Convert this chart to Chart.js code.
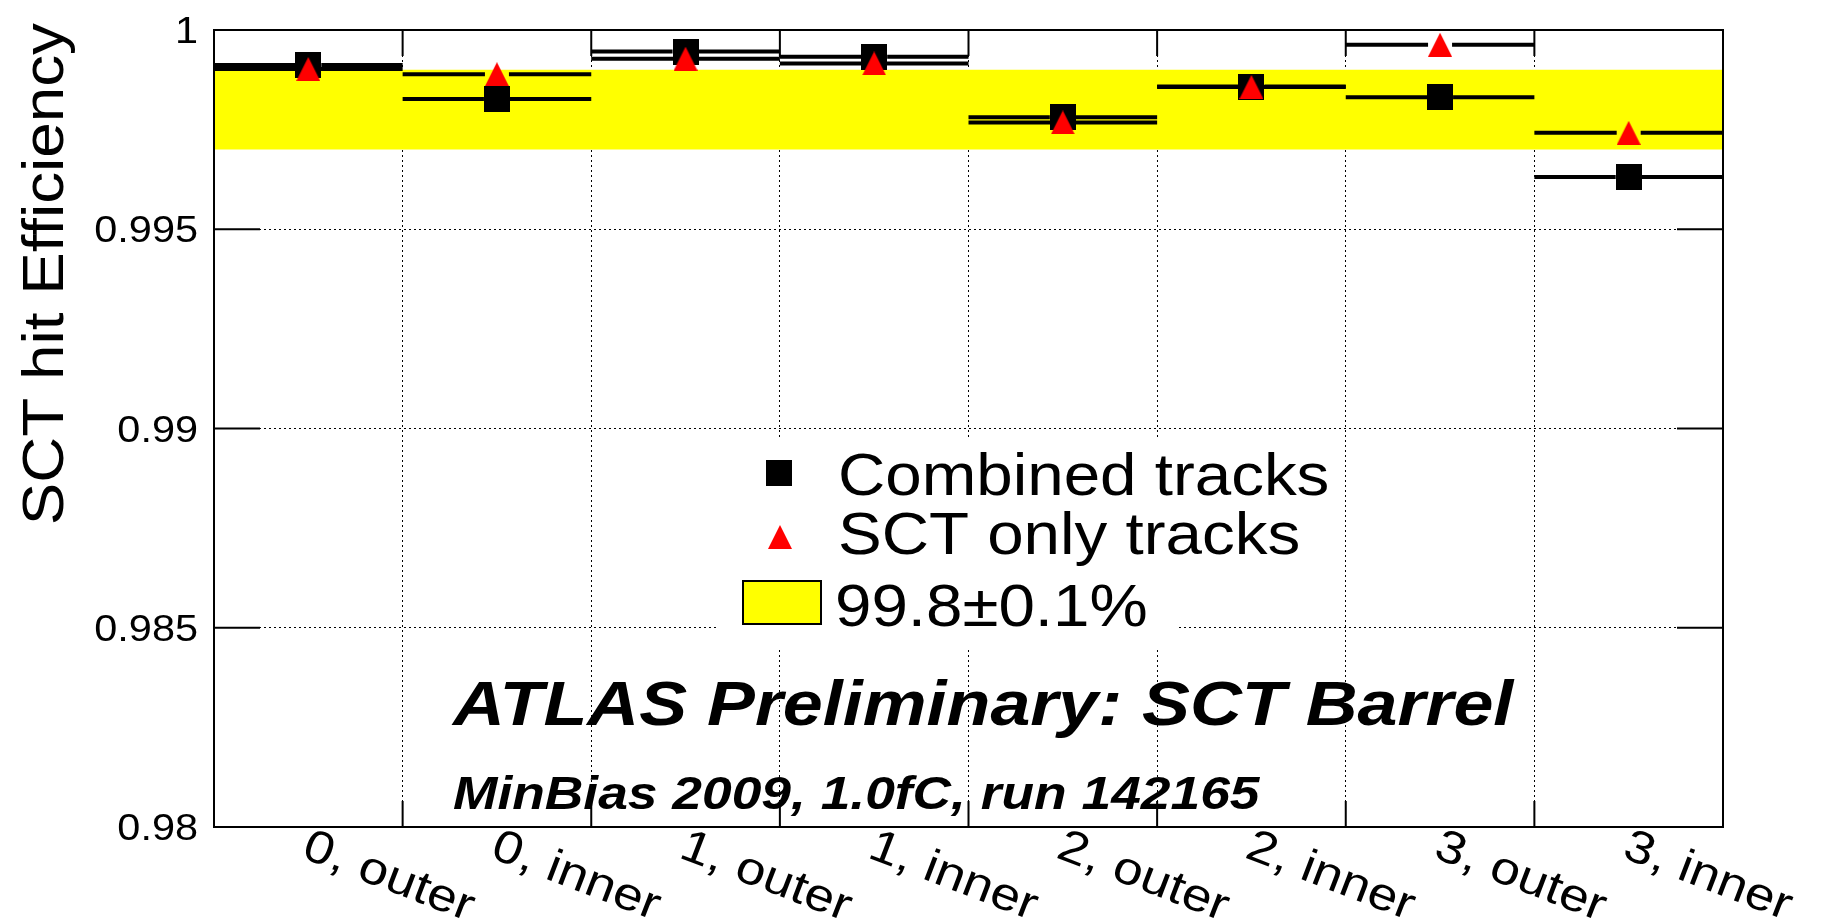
<!DOCTYPE html>
<html>
<head>
<meta charset="utf-8">
<title>SCT hit efficiency</title>
<script src="https://cdn.jsdelivr.net/npm/chart.js@4.4.1/dist/chart.umd.min.js"></script>
<style>
  html, body { margin: 0; padding: 0; background: #fff; }
  canvas { display: block; }
</style>
</head>
<body>
<canvas id="eff" width="1821" height="922"></canvas>
<script>
// Barrel layers / sides
const categories = ['0, outer', '0, inner', '1, outer', '1, inner', '2, outer', '2, inner', '3, outer', '3, inner'];
// Hit efficiency per layer side
const combinedEff = [0.99912, 0.99827, 0.99946, 0.99933, 0.99781, 0.99858, 0.99831, 0.99631];
const sctOnlyEff  = [0.99902, 0.99889, 0.99928, 0.99916, 0.99768, 0.99857, 0.99963, 0.99742];
// Reference band 99.8 +- 0.1 %
const bandCenter = 0.998;
const bandHalfWidth = 0.001;
// Y axis ticks
const yTickValues = [0.98, 0.985, 0.99, 0.995, 1];
const yTickLabels = ['0.98', '0.985', '0.99', '0.995', '1'];
// Text
const legendLabels = ['Combined tracks', 'SCT only tracks', '99.8\u00B10.1%'];
const yTitle = 'SCT hit Efficiency';
const atlasLabel = 'ATLAS Preliminary: SCT Barrel';
const runLabel = 'MinBias 2009, 1.0fC, run 142165';

const FONT = '"Liberation Sans", Arial, Helvetica, sans-serif';

// Marker sprites
function squareSprite(size) {
  const c = document.createElement('canvas');
  c.width = size; c.height = size;
  const g = c.getContext('2d');
  g.fillStyle = '#000';
  g.fillRect(0, 0, size, size);
  return c;
}
function triangleSprite(w, h) {
  const c = document.createElement('canvas');
  c.width = w; c.height = h;
  const g = c.getContext('2d');
  g.fillStyle = '#ff0000';
  g.beginPath();
  g.moveTo(w / 2, 0);
  g.lineTo(w, h);
  g.lineTo(0, h);
  g.closePath();
  g.fill();
  return c;
}
const squareImg = squareSprite(26);
const triangleImg = triangleSprite(24, 24);

function drawText(ctx, text, x, y, font, align, sx) {
  ctx.save();
  ctx.translate(x, y);
  ctx.scale(sx, 1);
  ctx.font = font;
  ctx.textAlign = align || 'left';
  ctx.textBaseline = 'alphabetic';
  ctx.fillStyle = '#000';
  ctx.fillText(text, 0, 0);
  ctx.restore();
}

// Horizontal bin-width error bars, drawn right after the band
function drawErrorBars(chart) {
  const { ctx, scales: { x, y } } = chart;
  ctx.save();
  ctx.strokeStyle = '#000';
  ctx.lineWidth = 4;
  ctx.lineCap = 'butt';
  const series = [[combinedEff, 13], [sctOnlyEff, 12]];
  for (const [vals, gap] of series) {
    vals.forEach((v, i) => {
      const x0 = x.getPixelForValue(i);
      const x1 = x.getPixelForValue(i + 1);
      const xc = x.getPixelForValue(i + 0.5);
      const py = y.getPixelForValue(v);
      ctx.beginPath();
      ctx.moveTo(x0, py); ctx.lineTo(xc - gap, py);
      ctx.moveTo(xc + gap, py); ctx.lineTo(x1, py);
      ctx.stroke();
    });
  }
  ctx.restore();
}

const decorations = {
  id: 'decorations',
  beforeDraw(chart) {
    const ctx = chart.ctx;
    ctx.save();
    ctx.fillStyle = '#fff';
    ctx.fillRect(0, 0, chart.width, chart.height);
    ctx.restore();
  },
  afterDatasetDraw(chart, args) {
    if (args.index === 2) drawErrorBars(chart);
  },
  afterDatasetsDraw(chart) {
    const { ctx, chartArea: a, scales: { x, y } } = chart;

    // Legend
    ctx.save();
    ctx.fillStyle = '#fff';
    ctx.fillRect(718, 440, 460, 208);
    ctx.drawImage(squareImg, 779 - 13, 473 - 13);
    ctx.drawImage(triangleImg, 780 - 12, 537 - 12);
    ctx.fillStyle = '#ffff00';
    ctx.fillRect(743, 581, 78, 43);
    ctx.strokeStyle = '#000';
    ctx.lineWidth = 2;
    ctx.strokeRect(743, 581, 78, 43);
    ctx.restore();
    drawText(ctx, legendLabels[0], 838, 495, '59px ' + FONT, 'left', 1.11);
    drawText(ctx, legendLabels[1], 838, 554, '59px ' + FONT, 'left', 1.11);
    drawText(ctx, legendLabels[2], 835, 626, '59px ' + FONT, 'left', 1.11);

    // Annotations
    drawText(ctx, atlasLabel, 453, 725, 'italic bold 63px ' + FONT, 'left', 1.14);
    drawText(ctx, runLabel, 453, 809, 'italic bold 47px ' + FONT, 'left', 1.135);

    // Frame and inward ticks
    ctx.save();
    ctx.strokeStyle = '#000';
    ctx.lineWidth = 2;
    ctx.strokeRect(a.left, a.top, a.right - a.left, a.bottom - a.top);
    ctx.beginPath();
    yTickValues.forEach(v => {
      const py = y.getPixelForValue(v);
      ctx.moveTo(a.left, py); ctx.lineTo(a.left + 46, py);
      ctx.moveTo(a.right, py); ctx.lineTo(a.right - 46, py);
    });
    for (let i = 1; i < categories.length; i++) {
      const px = x.getPixelForValue(i);
      ctx.moveTo(px, a.bottom); ctx.lineTo(px, a.bottom - 26);
      ctx.moveTo(px, a.top); ctx.lineTo(px, a.top + 26);
    }
    ctx.stroke();
    ctx.restore();

    // Y tick labels
    yTickValues.forEach((v, i) => {
      const py = y.getPixelForValue(v);
      drawText(ctx, yTickLabels[i], 198, py + 13, '37px ' + FONT, 'right', 1.12);
    });

    // Y title
    ctx.save();
    ctx.translate(63, 23);
    ctx.rotate(-Math.PI / 2);
    ctx.scale(1.1, 1);
    ctx.font = '58px ' + FONT;
    ctx.textAlign = 'right';
    ctx.fillStyle = '#000';
    ctx.fillText(yTitle, 0, 0);
    ctx.restore();

    // Rotated category labels
    categories.forEach((lab, i) => {
      const px = x.getPixelForValue(i + 0.5);
      ctx.save();
      ctx.translate(px - 8, 857);
      ctx.rotate(21 * Math.PI / 180);
      ctx.scale(1.15, 1);
      ctx.font = '46px ' + FONT;
      ctx.textAlign = 'left';
      ctx.fillStyle = '#000';
      ctx.fillText(lab, 0, 0);
      ctx.restore();
    });
  }
};

const centers = categories.map((_, i) => i + 0.5);
const nBins = categories.length;

new Chart(document.getElementById('eff'), {
  type: 'scatter',
  data: {
    datasets: [
      {
        label: legendLabels[1],
        data: centers.map((cx, i) => ({ x: cx, y: sctOnlyEff[i] })),
        pointStyle: triangleImg,
        pointRadius: 12,
        showLine: false
      },
      {
        label: legendLabels[0],
        data: centers.map((cx, i) => ({ x: cx, y: combinedEff[i] })),
        pointStyle: squareImg,
        pointRadius: 13,
        showLine: false
      },
      {
        type: 'line',
        label: legendLabels[2],
        data: [{ x: 0, y: bandCenter + bandHalfWidth }, { x: nBins, y: bandCenter + bandHalfWidth }],
        borderColor: 'rgba(0,0,0,0)',
        backgroundColor: '#ffff00',
        pointRadius: 0,
        fill: '+1'
      },
      {
        type: 'line',
        label: 'band low',
        data: [{ x: 0, y: bandCenter - bandHalfWidth }, { x: nBins, y: bandCenter - bandHalfWidth }],
        borderColor: 'rgba(0,0,0,0)',
        pointRadius: 0,
        fill: false
      }
    ]
  },
  options: {
    responsive: false,
    devicePixelRatio: 1,
    animation: false,
    layout: { padding: { top: 30, right: 98, bottom: 0, left: 0 } },
    plugins: { legend: { display: false }, tooltip: { enabled: false } },
    scales: {
      x: {
        type: 'linear',
        min: 0,
        max: nBins,
        ticks: { display: false, stepSize: 1 },
        grid: { color: '#000', lineWidth: 1, drawTicks: false },
        border: { display: false, dash: [2, 3] },
        afterFit(scale) { scale.height = 95; }
      },
      y: {
        type: 'linear',
        min: yTickValues[0],
        max: yTickValues[yTickValues.length - 1],
        ticks: { display: false, stepSize: 0.005 },
        grid: { color: '#000', lineWidth: 1, drawTicks: false },
        border: { display: false, dash: [2, 3] },
        afterFit(scale) { scale.width = 214; }
      }
    }
  },
  plugins: [decorations]
});
</script>
</body>
</html>
